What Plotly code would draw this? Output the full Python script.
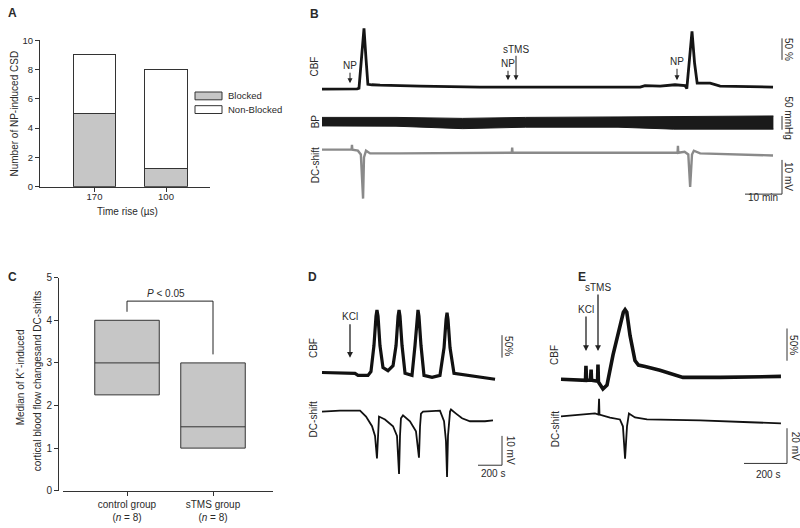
import plotly.graph_objects as go

W, H = 800, 528
FONT = "Liberation Sans, Arial, Helvetica, sans-serif"
TXT = "#2a2a2a"
GRAY = "#c6c6c6"

# ---------------- DATA ----------------
# Panel A
a_categories = ["170", "100"]
a_blocked = [5, 1.25]
a_nonblocked = [4, 6.75]
a_yticks = [0, 2, 4, 6, 8, 10]

# Panel B (time in min)
b_cbf_t = [0, 5, 9.5, 10.0, 10.8, 11.35, 11.9, 12.4, 13.5, 15.7, 26.5, 42.7, 64, 86, 87.3, 91.4, 95.4,
           98.1, 98.6, 99.3, 100, 100.7, 101.4, 104.9, 107.6, 121.9]
b_cbf_v = [0, 0, 0.5, 2, 80, 141, 70, 11, 10, 9, 7, 4.5, 4.5, 4.5, 8, 7, 10,
           8, 1, 60, 134, 60, 13.6, 13.6, 7, 4.5]
b_bp_t = [0, 20, 38, 55, 80, 95, 122]
b_bp_upper = [114.9, 114.9, 111.3, 114.9, 116.6, 118.4, 120.2]
b_bp_lower = [83.8, 82.7, 73.8, 79.1, 79.1, 72.0, 72.0]
b_dc_t = [0, 8.0, 8.1, 8.2, 9.7, 10.5, 11.1, 11.35, 11.9, 13, 21, 51.3, 51.4, 51.5, 75, 96.1, 96.2, 96.3,
          98, 99, 99.5, 100, 100.5, 102.2, 121.9]
b_dc_v = [0, 0, 1.4, 0, -0.3, -1.4, -14.3, -2.3, -0.3, -1.1, -1.1, -0.9, 0.6, -0.9, -0.9, -0.9, 1.1, -0.9,
          -0.6, -1.4, -10.9, -1.4, -0.3, -1.1, -1.7]

# Panel C
c_groups = ["control group<br>(<i>n</i> = 8)", "sTMS group<br>(<i>n</i> = 8)"]
c_q1 = [2.25, 1.0]
c_median = [3.0, 1.5]
c_q3 = [4.0, 3.0]
c_yticks = [0, 1, 2, 3, 4, 5]
c_pvalue = "<i>P</i> < 0.05"

# Panel D (time in s)
d_cbf_t = [0, 275, 300, 383, 408, 433, 450, 458, 467, 483, 508, 550, 592, 617, 634, 642, 650, 667, 692,
           750, 775, 792, 800, 808, 825, 850, 917, 983, 1017, 1034, 1042, 1050, 1067, 1100, 1233, 1442]
d_cbf_v = [0, -2, -6.5, -6.5, 2, 60, 125, 139, 125, 60, 11, 4, 15, 60, 125, 139, 125, 60, -2,
           -6.5, 60, 125, 139, 125, 60, -6.5, -11, -6.5, 55, 118, 133, 118, 55, -2, -6.5, -15]
d_dc_t = [0, 150, 317, 367, 417, 442, 458, 467, 475, 525, 592, 625, 642, 650, 658, 675, 733, 783, 808, 817,
          825, 842, 983, 1017, 1033, 1042, 1050, 1067, 1075, 1117, 1167, 1233, 1358, 1425]
d_dc_v = [0, 0.3, 0.3, -1.7, -5, -8.3, -16, -5, -1.7, -2.7, -5, -8.3, -21.3, -8.3, -2.3, -1.3, -3.3, -6.7,
          -15.7, -5, -0.7, 0, 0.3, -3.3, -10, -22.3, -8.3, 0, 0.7, -0.7, -2.3, -3.3, -3.3, -3]

# Panel E (time in s)
e_cbf_t = [0, 88, 114, 116, 119, 137, 140, 142, 170, 172, 174, 195, 214, 242, 274, 290, 298, 306, 321, 344,
           360, 391, 460, 567, 740, 1023]
e_cbf_v = [0, -1.5, -1.5, 21, -1.5, -1.5, 15, -1.5, -3, 23, -4, -15, -9, 38, 83, 104, 108, 104, 68, 29,
           22, 20, 14, 3, 3, 4.5]
e_dc_t = [0, 158, 174, 177, 179, 228, 274, 288, 298, 307, 316, 344, 400, 647, 879, 1023]
e_dc_v = [0, 1.7, 1.1, 10, 1.1, -0.6, -1.7, -5.6, -24, -5.6, 1.7, -0.6, -1.7, -2.2, -3.3, -3.9]

# scale bars
b_scale = dict(cbf=50, bp=50, dc=10, time=10)
d_scale = dict(cbf=50, dc=10, time=200)
e_scale = dict(cbf=50, dc=20, time=200)

# ---------------- HELPERS ----------------
fig = go.Figure()
layout = dict(width=W, height=H, autosize=False, margin=dict(l=0, r=0, t=0, b=0, pad=0), paper_bgcolor="white",
              plot_bgcolor="rgba(0,0,0,0)", showlegend=False, barmode="stack",
              font=dict(family=FONT, size=10, color=TXT))
ann = []
shapes = []


def text(x, y, s, size=10, angle=0, bold=False, xanchor="center", yanchor="middle"):
    if bold:
        s = "<b>" + s + "</b>"
    ann.append(dict(x=x / W, y=1 - y / H, xref="paper", yref="paper", text=s, showarrow=False,
                    textangle=angle, font=dict(size=size, color=TXT, family=FONT),
                    xanchor=xanchor, yanchor=yanchor))


def arrow(x, yhead, ytail, width=1.0, size=1.0):
    ann.append(dict(x=x / W, y=1 - yhead / H, xref="paper", yref="paper", ax=0, ay=ytail - yhead,
                    text="", showarrow=True, arrowhead=2, arrowsize=size, arrowwidth=width,
                    arrowcolor="#222"))


def trace_axes(n, xdom, ydom, x0px, sx, y0px, sy):
    xr = [(xdom[0] - x0px) / sx, (xdom[1] - x0px) / sx]
    yr = [(y0px - ydom[1]) / sy, (y0px - ydom[0]) / sy]
    layout["xaxis%d" % n] = dict(domain=[xdom[0] / W, xdom[1] / W], range=xr, visible=False,
                                 anchor="y%d" % n, fixedrange=True)
    layout["yaxis%d" % n] = dict(domain=[1 - ydom[1] / H, 1 - ydom[0] / H], range=yr, visible=False,
                                 anchor="x%d" % n, fixedrange=True)


def line(n, xs, ys, color="#111", width=1.0):
    fig.add_trace(go.Scatter(x=xs, y=ys, mode="lines", line=dict(color=color, width=width),
                             xaxis="x%d" % n, yaxis="y%d" % n, hoverinfo="skip"))


# ---------------- PANEL A ----------------
fig.add_trace(go.Bar(x=a_categories, y=a_blocked, width=0.6, marker=dict(color=GRAY, line=dict(color="#333", width=1)),
                     xaxis="x", yaxis="y", name="Blocked"))
fig.add_trace(go.Bar(x=a_categories, y=a_nonblocked, width=0.6, marker=dict(color="white", line=dict(color="#333", width=1)),
                     xaxis="x", yaxis="y", name="Non-Blocked"))
c0, sp = 94.5, 71.5
layout["xaxis"] = dict(domain=[40 / W, 210 / W], range=[(40 - c0) / sp, (210 - c0) / sp], type="category",
                       showline=True, linecolor="#333", linewidth=1, ticks="outside", ticklen=4, tickcolor="#333",
                       tickfont=dict(size=9.5), showgrid=False, zeroline=False, anchor="y", fixedrange=True)
layout["yaxis"] = dict(domain=[1 - 185 / H, 1 - 35 / H], range=[0, 10], tickvals=a_yticks,
                       showline=True, linecolor="#333", linewidth=1, ticks="outside", ticklen=4, tickcolor="#333",
                       tickfont=dict(size=9.5), showgrid=False, zeroline=False, anchor="x", fixedrange=True)
text(6, 7, "A", size=12, bold=True, xanchor="left")
text(14, 110, "Number of NP-induced CSD", angle=-90)
text(127, 210, "Time rise (µs)")
shapes.append(dict(type="rect", xref="paper", yref="paper", x0=195 / W, x1=222 / W, y0=1 - 96 / H, y1=1 - 88 / H,
                   fillcolor=GRAY, line=dict(color="#333", width=1)))
shapes.append(dict(type="rect", xref="paper", yref="paper", x0=195 / W, x1=222 / W, y0=1 - 110 / H, y1=1 - 102 / H,
                   fillcolor="white", line=dict(color="#333", width=1)))
text(226, 92, "Blocked", size=9.5, xanchor="left")
text(226, 106, "Non-Blocked", size=9.5, xanchor="left")

# ---------------- PANEL C ----------------
cc, csp = 127, 86
for i in range(2):
    fig.add_trace(go.Box(x=[c_groups[i]], q1=[c_q1[i]], median=[c_median[i]], q3=[c_q3[i]],
                         lowerfence=[c_q1[i]], upperfence=[c_q3[i]], width=0.75, whiskerwidth=0,
                         fillcolor=GRAY, line=dict(color="#333", width=1), boxpoints=False,
                         xaxis="x2", yaxis="y2", hoverinfo="skip"))
layout["xaxis2"] = dict(domain=[63 / W, 273 / W], range=[(63 - cc) / csp, (273 - cc) / csp], type="category",
                        showline=True, linecolor="#333", linewidth=1, ticks="outside", ticklen=4, tickcolor="#333",
                        tickfont=dict(size=10), showgrid=False, zeroline=False, anchor="y2", fixedrange=True)
layout["yaxis2"] = dict(domain=[1 - 496 / H, 1 - 278 / H], range=[0, 5], tickvals=c_yticks,
                        showline=True, linecolor="#333", linewidth=1, ticks="outside", ticklen=4, tickcolor="#333",
                        tickfont=dict(size=10), showgrid=False, zeroline=False, anchor="free",
                        position=58 / W, fixedrange=True)
fig.add_trace(go.Scatter(x=[c_groups[0], c_groups[0], c_groups[1], c_groups[1]], y=[4.2, 4.45, 4.45, 3.2],
                         mode="lines", line=dict(color="#222", width=1), xaxis="x2", yaxis="y2", hoverinfo="skip"))
text(6, 277, "C", size=12, bold=True, xanchor="left")
text(166, 294, c_pvalue)
text(20, 380, "Median of K<sup>+</sup>-induced", angle=-90)
text(37, 384, "cortical blood flow changesand DC-shifts", angle=-90)

# ---------------- PANEL B ----------------
trace_axes(3, (318, 795), (15, 97), 322, 3.7, 85, 0.44)
trace_axes(4, (318, 795), (100, 136), 322, 3.7, 146.16, 0.28)
trace_axes(5, (318, 795), (136, 202), 322, 3.7, 147, 3.5)
line(3, b_cbf_t, b_cbf_v, "#151515", 2.8)
fig.add_trace(go.Scatter(x=b_bp_t, y=b_bp_lower, mode="lines", line=dict(color="#1a1a1a", width=1),
                         xaxis="x4", yaxis="y4", hoverinfo="skip"))
fig.add_trace(go.Scatter(x=b_bp_t, y=b_bp_upper, mode="lines", line=dict(color="#1a1a1a", width=1),
                         fill="tonexty", fillcolor="#1a1a1a", xaxis="x4", yaxis="y4", hoverinfo="skip"))
line(5, b_dc_t, b_dc_v, "#8a8a8a", 2.4)
tb = (782 - 322) / 3.7
line(3, [tb, tb], [68, 68 + b_scale["cbf"]], "#333", 1)
line(4, [tb, tb], [70, 70 + b_scale["bp"]], "#333", 1)
line(5, [tb - b_scale["time"], tb, tb], [-13, -13, -13 + b_scale["dc"]], "#333", 1)
text(308, 8, "B", size=12, bold=True, xanchor="left")
text(315, 62, "CBF", angle=-90)
text(315, 118, "BP", angle=-90)
text(315, 163, "DC-shift", angle=-90)
text(350, 61, "NP")
arrow(350, 79, 67)
text(508, 59, "NP")
arrow(508, 76, 65)
text(516, 44, "sTMS")
arrow(516, 76, 50)
text(677, 57, "NP")
arrow(677, 76, 63)
text(789, 44, "50 %", angle=90)
text(789, 114, "50 mmHg", angle=90)
text(789, 174, "10 mV", angle=90)
text(763, 196, "10 min")

# ---------------- PANEL D ----------------
trace_axes(6, (318, 520), (300, 392), 322, 0.12, 375, 0.46)
trace_axes(7, (318, 520), (395, 495), 322, 0.12, 415, 3.0)
line(6, d_cbf_t, d_cbf_v, "#111", 3.2)
line(7, d_dc_t, d_dc_v, "#111", 1.8)
td = (502 - 322) / 0.12
line(6, [td, td], [33, 33 + d_scale["cbf"]], "#333", 1)
line(7, [td - d_scale["time"], td, td], [-18.3, -18.3, -18.3 + d_scale["dc"]], "#333", 1)
text(306, 277, "D", size=12, bold=True, xanchor="left")
text(313, 350, "CBF", angle=-90)
text(313, 423, "DC-shift", angle=-90)
text(350, 318, "KCl")
arrow(350, 360, 325, width=1.3, size=0.9)
text(509, 348, "50%", angle=90)
text(510, 455, "10 mV", angle=90)
text(493, 478, "200 s")

# ---------------- PANEL E ----------------
trace_axes(8, (557, 798), (300, 400), 561, 0.215, 382, 0.66)
trace_axes(9, (557, 798), (395, 480), 561, 0.215, 420, 1.8)
line(8, e_cbf_t, e_cbf_v, "#111", 3.6)
line(9, e_dc_t, e_dc_v, "#111", 1.8)
te = (787 - 561) / 0.215
line(8, [te, te], [28.8, 28.8 + e_scale["cbf"]], "#333", 1)
line(9, [te - e_scale["time"], te, te], [-26.7, -26.7, -26.7 + e_scale["dc"]], "#333", 1)
text(576, 277, "E", size=12, bold=True, xanchor="left")
text(555, 357, "CBF", angle=-90)
text(555, 433, "DC-shift", angle=-90)
text(586, 311, "KCl")
arrow(586, 353, 317, width=1.3, size=0.9)
text(598, 288, "sTMS")
arrow(598, 353, 295, width=1.3, size=0.9)
text(794, 347, "50%", angle=90)
text(795, 450, "20 mV", angle=90)
text(768, 479, "200 s")

layout["annotations"] = ann
layout["shapes"] = shapes
fig.update_layout(**layout)
try:
    fig.update_xaxes(ticklabelstandoff=-3, selector=dict(anchor="y"))
except Exception:
    pass
fig.write_html("out.html", config={"displayModeBar": False, "staticPlot": True, "responsive": False})

# remove the browser's default page margin so the 800x528 figure fills the window exactly
with open("out.html", encoding="utf-8") as f:
    html = f.read()
html = html.replace("<head>", "<head><style>html,body{margin:0;padding:0;overflow:hidden;}</style>", 1)
with open("out.html", "w", encoding="utf-8") as f:
    f.write(html)
